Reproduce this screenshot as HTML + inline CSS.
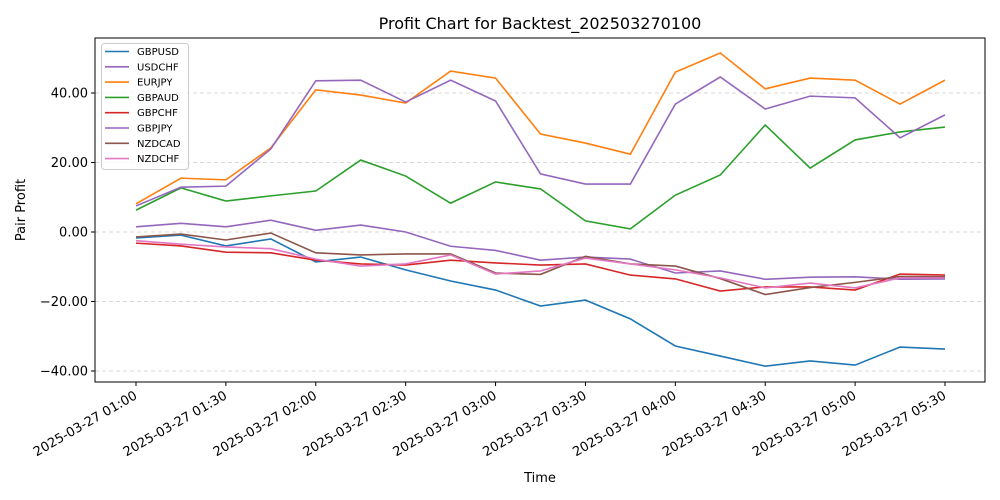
<!DOCTYPE html>
<html><head><meta charset="utf-8"><style>
body{margin:0;background:#fff}
svg{display:block;font-family:"DejaVu Sans","Liberation Sans",sans-serif}
</style></head><body>
<svg id="c" width="1000" height="500">
<text x="540" y="29" text-anchor="middle" font-size="16">Profit Chart for Backtest_202503270100</text>
<text x="540" y="482" text-anchor="middle" font-size="13">Time</text>
<text transform="translate(25,210) rotate(-90)" text-anchor="middle" font-size="13">Pair Profit</text>
</svg>
<script>
const timeLabels=["2025-03-27 01:00","2025-03-27 01:30","2025-03-27 02:00","2025-03-27 02:30","2025-03-27 03:00","2025-03-27 03:30","2025-03-27 04:00","2025-03-27 04:30","2025-03-27 05:00","2025-03-27 05:30"];
const yTicks=[-40,-20,0,20,40];
const seriesNames=["GBPUSD","USDCHF","EURJPY","GBPAUD","GBPCHF","GBPJPY","NZDCAD","NZDCHF"];
const seriesColors=["#1f77b4","#9467bd","#ff7f0e","#2ca02c","#d62728","#9467bd","#8c564b","#e377c2"];
const gbpusd=[-1.7,-0.9,-4.0,-2.0,-8.6,-7.2,-10.9,-14.1,-16.7,-21.3,-19.6,-25.0,-32.8,-35.7,-38.6,-37.1,-38.3,-33.1,-33.7];
const usdchf=[1.5,2.5,1.5,3.4,0.5,2.0,0,-4.1,-5.3,-8.1,-7.2,-7.8,-11.8,-11.2,-13.6,-13.0,-12.9,-13.6,-13.5];
const eurjpy=[8.1,15.5,15.0,24.2,40.9,39.4,37.1,46.3,44.3,28.2,25.6,22.4,46.0,51.5,41.2,44.3,43.7,36.8,43.7];
const gbpaud=[6.3,12.7,8.9,10.4,11.8,20.7,16.1,8.3,14.4,12.4,3.2,0.9,10.6,16.4,30.8,18.4,26.5,28.8,30.2];
const gbpchf=[-3.2,-4.0,-5.8,-6.0,-8.1,-9.2,-9.5,-8.1,-8.9,-9.5,-9.2,-12.4,-13.5,-17.0,-15.8,-15.8,-16.7,-12.1,-12.4];
const gbpjpy=[7.5,12.9,13.2,23.9,43.5,43.7,37.4,43.7,37.7,16.7,13.8,13.8,36.8,44.6,35.4,39.1,38.6,27.1,33.7];
const nzdcad=[-1.4,-0.6,-2.3,-0.3,-6.0,-6.6,-6.3,-6.3,-11.8,-12.2,-7.0,-9.2,-9.8,-13.4,-18.0,-16.0,-14.5,-12.8,-12.9];
const nzdchf=[-2.5,-3.5,-4.3,-4.8,-7.8,-9.8,-9.2,-6.6,-12.1,-11.2,-7.5,-9.2,-10.9,-13.2,-16.1,-14.7,-16.1,-13.2,-13.2];
const allSeries=[gbpusd,usdchf,eurjpy,gbpaud,gbpchf,gbpjpy,nzdcad,nzdchf];

const svg=document.getElementById('c');const NS='http://www.w3.org/2000/svg';
const L=95,R=985,T=38,B=382;
const X0=136,X1=945;
const xs=i=>X0+(X1-X0)*i/(gbpusd.length-1);
const ys=v=>232-v*3.475;
function mk(t,a,p){const e=document.createElementNS(NS,t);for(const k in a)e.setAttribute(k,a[k]);(p||svg).appendChild(e);return e;}
yTicks.forEach(v=>{
 const g=mk('line',{x1:L,x2:R,y1:ys(v),y2:ys(v),stroke:'#ccc','stroke-dasharray':'4,3','stroke-width':0.8});
 
 
 const tk=mk('line',{x1:L-4,x2:L,y1:ys(v),y2:ys(v),stroke:'#000'});
 
 
 const t=mk('text',{x:L-7,y:ys(v)+4.5,'text-anchor':'end','font-size':13});
 t.textContent=(v<0?'\u2212':'')+Math.abs(v).toFixed(2);
 
 
});
timeLabels.forEach((s,i)=>{
 const x=xs(i*2);
 const tk=mk('line',{x1:x,x2:x,y1:B,y2:B+4,stroke:'#000'});
 
 
 const t=mk('text',{transform:`translate(${x+2},${B+16}) rotate(-30)`,'text-anchor':'end','font-size':13});
 t.textContent=s;
 
 
});
allSeries.forEach((d,k)=>{
 const p=mk('polyline',{points:d.map((v,i)=>xs(i)+','+ys(v)).join(' '),fill:'none',stroke:seriesColors[k],'stroke-width':1.6});
 
 
});
const fr=mk('rect',{x:L,y:T,width:R-L,height:B-T,fill:'none',stroke:'#000','stroke-width':1});


const lg=mk('g',{});


mk('rect',{x:101.5,y:43.5,width:87,height:126,rx:3,fill:'#fff','fill-opacity':0.8,stroke:'#ccc'},lg);
seriesNames.forEach((n,k)=>{
 const y=51.5+k*15.3;
 const e=mk('g',{},lg);
 
 
 mk('line',{x1:105,x2:129,y1:y,y2:y,stroke:seriesColors[k],'stroke-width':1.6},e);
 const t=mk('text',{x:137,y:y+3.5,'font-size':10},e);t.textContent=n;
});
</script>
</body></html>
